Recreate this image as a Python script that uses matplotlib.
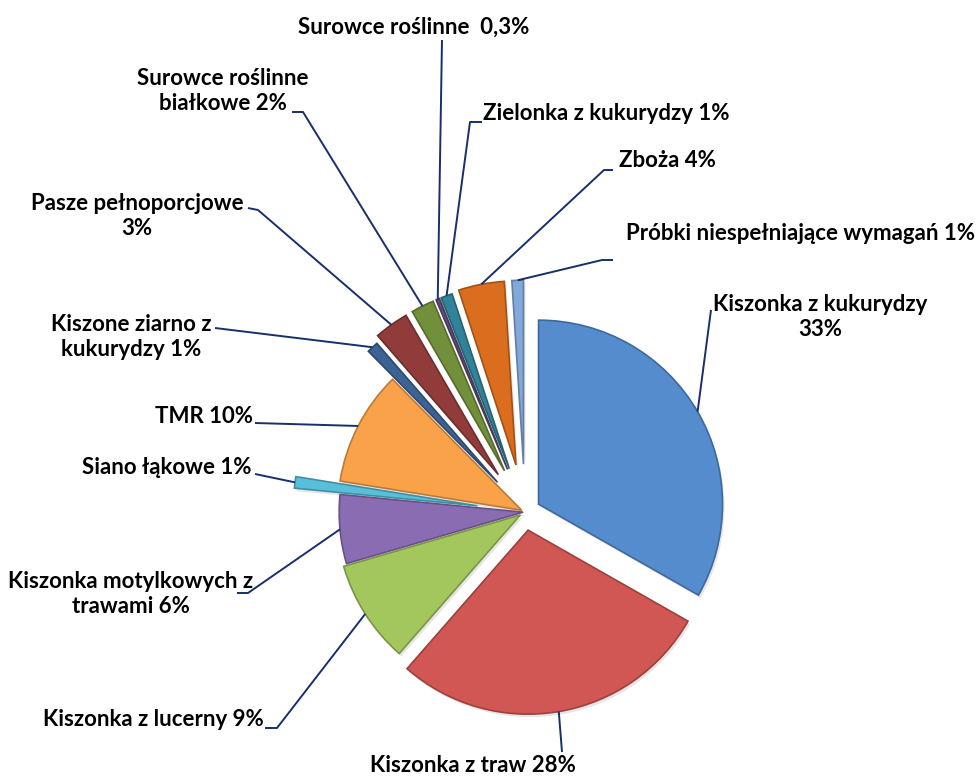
import numpy as np
import matplotlib
matplotlib.use("Agg")
import matplotlib.pyplot as plt
from matplotlib.patches import Wedge
import matplotlib.colors as mcolors

# ---------------------------------------------------------------------------
# Dane
# ---------------------------------------------------------------------------
kategorie = [
    "Kiszonka z kukurydzy\n33%",
    "Kiszonka z traw 28%",
    "Kiszonka z lucerny 9%",
    "Kiszonka motylkowych z\ntrawami 6%",
    "Siano łąkowe 1%",
    "TMR 10%",
    "Kiszone ziarno z\nkukurydzy 1%",
    "Pasze pełnoporcjowe\n3%",
    "Surowce roślinne\nbiałkowe 2%",
    "Surowce roślinne  0,3%",
    "Zielonka z kukurydzy 1%",
    "Zboża 4%",
    "Próbki niespełniające wymagań 1%",
]
udzialy = [33, 28, 9, 6, 1, 10, 1, 3, 2, 0.3, 1, 4, 1]

# ---------------------------------------------------------------------------
# Wyglad
# ---------------------------------------------------------------------------
W, H = 980, 778
kolory = ["#548CCE", "#D05753", "#A3C75D", "#8A6CB2", "#58BFDA", "#FAA24A",
          "#3D6394", "#913C3A", "#72903C", "#604C7C", "#328399", "#DA6D1E",
          "#82A9D9"]
# wysuniecie wycinkow jako ulamek promienia
wysuniecie = [0.085, 0.10, 0.03, 0.01, 0.26, 0.02, 0.22, 0.25, 0.25, 0.25,
              0.25, 0.26, 0.26]
SRODEK = (525, H - 512)
PROMIEN = 184
KOLOR_LINII = "#17306B"

# pozycje etykiet (piksele, srodek tekstu) i punkty lamania linii odniesienia
etykiety_xy = [(820, 317), (473, 766), (153, 720), (131, 594), (167, 467),
               (204, 416), (131, 337), (137, 216), (223, 91), (414, 27),
               (606, 113), (667, 160), (800, 233)]
lamania = [
    [(711, 310)],
    [(562, 752)],
    [(265, 728), (277, 728)],
    [(237, 593), (248, 593)],
    [(255, 474)],
    [(255, 423)],
    [(215, 328)],
    [(248, 208), (258, 210)],
    [(292, 112), (303, 112)],
    [(442, 40)],
    [(482, 122), (470, 122)],
    [(613, 170), (604, 170)],
    [(613, 260), (602, 260)],
]


def px(x, y):
    return x, H - y


def ciemniej(kolor, f=0.75):
    r, g, b = mcolors.to_rgb(kolor)
    return (r * f, g * f, b * f)


fig = plt.figure(figsize=(W / 100, H / 100), dpi=100)
ax = fig.add_axes([0, 0, 1, 1])

# explode w matplotlib jest w jednostkach danych -> mnozymy przez promien
wedges, _ = ax.pie(udzialy, colors=kolory,
                   explode=[e * PROMIEN for e in wysuniecie], startangle=90,
                   counterclock=False, radius=PROMIEN, center=SRODEK,
                   wedgeprops=dict(linewidth=1.2))

for w, k in zip(wedges, kolory):
    w.set_edgecolor(ciemniej(k))
    w.set_zorder(3)
    cx, cy = w.center
    # cien pod wycinkiem
    cien = Wedge((cx + 2, cy - 3), w.r, w.theta1, w.theta2,
                 facecolor="black", alpha=0.10, edgecolor="none", zorder=2)
    ax.add_patch(cien)

for w, tekst, xy, lam in zip(wedges, kategorie, etykiety_xy, lamania):
    cx, cy = w.center
    sr = np.deg2rad((w.theta1 + w.theta2) / 2)
    kotwica = (cx + w.r * np.cos(sr), cy + w.r * np.sin(sr))
    punkty = [px(*p) for p in lam] + [kotwica]
    xs, ys = zip(*punkty)
    ax.plot(xs, ys, color=KOLOR_LINII, linewidth=1.4, zorder=5,
            solid_capstyle="butt")
    ax.text(*px(*xy), tekst, ha="center", va="center", multialignment="center",
            fontsize=16, fontweight="bold", family="Lato", linespacing=1.28,
            color="black", zorder=6)

ax.set_xlim(0, W)
ax.set_ylim(0, H)
ax.set_aspect("equal")
ax.axis("off")

fig.savefig("out.png", dpi=100)
